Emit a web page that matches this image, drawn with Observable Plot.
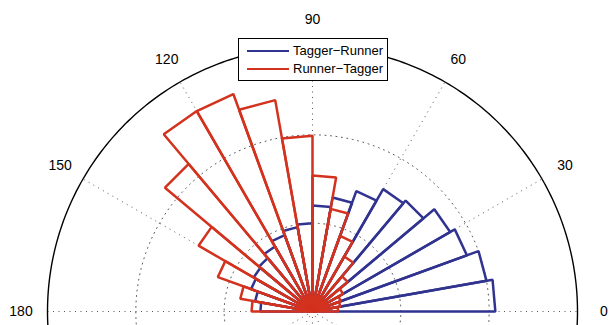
<!DOCTYPE html>
<html>
<head>
<meta charset="utf-8">
<script src="https://cdn.jsdelivr.net/npm/d3@7"></script>
<script src="https://cdn.jsdelivr.net/npm/@observablehq/plot@0.6"></script>
<style>
  body { margin: 0; background: #fff; }
  #chart { position: relative; width: 610px; height: 325px; overflow: hidden;
           font-family: "Liberation Sans", Arial, Helvetica, sans-serif; }
  #chart svg { position: absolute; left: 0; top: 0; }
  .legend { position: absolute; left: 238px; top: 38px; width: 148px; height: 41px;
            border: 1px solid #000; background: #fff; font-size: 13px; color: #000; }
  .legend .item { position: absolute; left: 0; height: 18px; width: 100%; }
  .legend .swatch { position: absolute; left: 8px; top: 8px; width: 42px; height: 0;
                    border-top: 2.5px solid; }
  .legend .label { position: absolute; left: 54px; top: 1px; line-height: 16px; white-space: nowrap; }
</style>
</head>
<body>
<div id="chart"></div>
<script>
// Angular bins (start angle, degrees); each bin spans binWidth degrees
const binWidth = 10;
const binStart = [0, 10, 20, 30, 40, 50, 60, 70, 80, 90, 100, 110, 120, 130, 140, 150, 160, 170];

// Counts per bin
const taggerRunner = [207, 200, 186, 180, 164, 160, 145, 131, 120, 100, 97, 92, 85, 79, 77, 74, 66, 59];
const runnerTagger = [29, 32, 34, 40, 52, 72, 91, 118, 154, 199, 243, 262, 262, 218, 149, 114, 83, 69];

const seriesNames = ["Tagger\u2212Runner", "Runner\u2212Tagger"];
const seriesColors = ["#30338f", "#d2321e"];

// Polar grid
const rMax = 300;
const ringValues = [100, 200];
const spokeAngles = [0, 30, 60, 90, 120, 150];
const angleLabels = [0, 30, 60, 90, 120, 150, 180];

// Canvas geometry: polar origin and outer radius in pixels
const W = 610, H = 325;
const cx = 312, cy = 311, R = 265;
const k = rMax / R;

const rad = d => d * Math.PI / 180;
const polar = (r, deg) => ({x: r * Math.cos(rad(deg)), y: r * Math.sin(rad(deg))});

// Rose wedges: origin -> (r, a0) -> (r, a1) -> origin
function wedges(values, series) {
  const pts = [];
  values.forEach((v, i) => {
    const a0 = binStart[i], a1 = binStart[i] + binWidth;
    const id = series + "-" + i;
    [{x: 0, y: 0}, polar(v, a0), polar(v, a1), {x: 0, y: 0}]
      .forEach(p => pts.push({...p, id, series}));
  });
  return pts;
}
const blueWedges = wedges(taggerRunner, seriesNames[0]);
const redWedges = wedges(runnerTagger, seriesNames[1]);

// Circles
const circle = r => d3.range(0, 361, 1).map(a => ({...polar(r, a), r}));
const ringPts = ringValues.flatMap(circle);
const outerPts = circle(rMax);

// Spokes through the origin
const spokes = spokeAngles.map(a => ({
  x1: -rMax * Math.cos(rad(a)), y1: -rMax * Math.sin(rad(a)),
  x2: rMax * Math.cos(rad(a)), y2: rMax * Math.sin(rad(a))
}));

const labels = angleLabels.map(a => ({...polar(1.1 * rMax, a), text: String(a)}));

const dotted = {stroke: "#3a3a3a", strokeWidth: 1, strokeDasharray: "1,4.5", strokeOpacity: 0.85};

const plot = Plot.plot({
  width: W,
  height: H,
  margin: 0,
  style: {background: "white", fontFamily: "'Liberation Sans', Arial, Helvetica, sans-serif"},
  x: {domain: [-cx * k, (W - cx) * k], axis: null},
  y: {domain: [-(H - cy) * k, cy * k], axis: null},
  marks: [
    Plot.line(ringPts, {x: "x", y: "y", z: "r", ...dotted}),
    Plot.link(spokes, {x1: "x1", y1: "y1", x2: "x2", y2: "y2", ...dotted}),
    Plot.line(outerPts, {x: "x", y: "y", stroke: "#000", strokeWidth: 1.4}),
    Plot.line(blueWedges, {x: "x", y: "y", z: "id", stroke: seriesColors[0], strokeWidth: 2.5, strokeLinejoin: "miter"}),
    Plot.line(redWedges, {x: "x", y: "y", z: "id", stroke: seriesColors[1], strokeWidth: 2.5, strokeLinejoin: "miter"}),
    Plot.text(labels, {x: "x", y: "y", text: "text", fontSize: 14, fill: "#000"})
  ]
});

const chart = document.getElementById("chart");
chart.appendChild(plot);

// Legend box inside the polar area
const legend = document.createElement("div");
legend.className = "legend";
seriesNames.forEach((name, i) => {
  const item = document.createElement("div");
  item.className = "item";
  item.style.top = (3 + i * 18.3) + "px";
  const sw = document.createElement("div");
  sw.className = "swatch";
  sw.style.borderTopColor = seriesColors[i];
  const lb = document.createElement("div");
  lb.className = "label";
  lb.textContent = name;
  item.appendChild(sw);
  item.appendChild(lb);
  legend.appendChild(item);
});
chart.appendChild(legend);
</script>
</body>
</html>
